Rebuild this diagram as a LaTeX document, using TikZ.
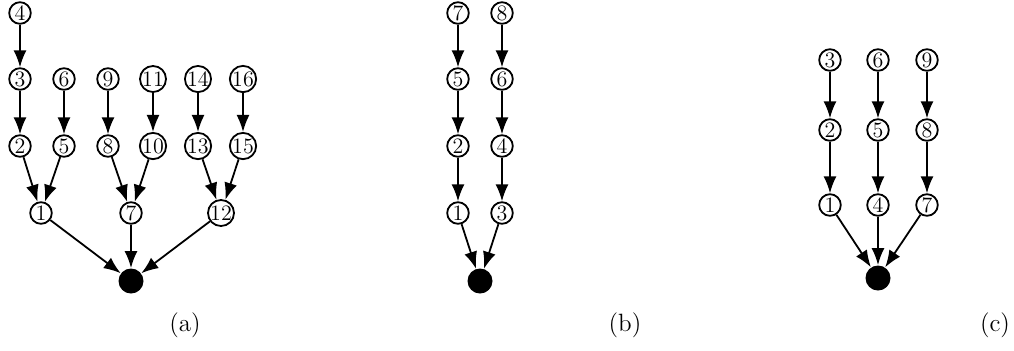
\documentclass[tikz,border=0pt]{standalone}
\usetikzlibrary{arrows.meta}
\begin{document}
\begin{tikzpicture}[x=0.5pt,y=-0.5pt,
  vtx/.style={circle,draw,line width=0.9pt,minimum size=10.8pt,inner sep=0pt,font=\fontsize{11}{13}\selectfont},
  rootv/.style={circle,fill,minimum size=12.5pt,inner sep=0pt},
  edge/.style={line width=0.9pt,-{Latex[length=8.5pt,width=6.5pt]}},
  caplabel/.style={inner sep=0pt,font=\fontsize{12.5}{15}\selectfont}]
\useasboundingbox (0,0) rectangle (1014,350);
% (a)
\node[vtx] (a4) at (20,13) {4};
\node[vtx] (a3) at (20,79) {3};
\node[vtx] (a6) at (64,79) {6};
\node[vtx] (a9) at (108,79) {9};
\node[vtx] (a11) at (153,79) {11};
\node[vtx] (a14) at (198,79) {14};
\node[vtx] (a16) at (243,79) {16};
\node[vtx] (a2) at (20,146) {2};
\node[vtx] (a5) at (64,146) {5};
\node[vtx] (a8) at (108,146) {8};
\node[vtx] (a10) at (153,146) {10};
\node[vtx] (a13) at (198,146) {13};
\node[vtx] (a15) at (243,146) {15};
\node[vtx] (a1) at (41,213) {1};
\node[vtx] (a7) at (131,213) {7};
\node[vtx] (a12) at (221,213) {12};
\node[rootv] (ar) at (131,281) {};
\draw[edge] (a4) -- (a3);
\draw[edge] (a3) -- (a2);
\draw[edge] (a6) -- (a5);
\draw[edge] (a9) -- (a8);
\draw[edge] (a11) -- (a10);
\draw[edge] (a14) -- (a13);
\draw[edge] (a16) -- (a15);
\draw[edge] (a2) -- (a1);
\draw[edge] (a5) -- (a1);
\draw[edge] (a8) -- (a7);
\draw[edge] (a10) -- (a7);
\draw[edge] (a13) -- (a12);
\draw[edge] (a15) -- (a12);
\draw[edge] (a1) -- (ar);
\draw[edge] (a7) -- (ar);
\draw[edge] (a12) -- (ar);
\node[caplabel] (la) at (185,325) {(a)};
% (b)
\node[vtx] (b7) at (458,13) {7};
\node[vtx] (b8) at (502,13) {8};
\node[vtx] (b5) at (458,79) {5};
\node[vtx] (b6) at (502,79) {6};
\node[vtx] (b2) at (458,146) {2};
\node[vtx] (b4) at (502,146) {4};
\node[vtx] (b1) at (458,213) {1};
\node[vtx] (b3) at (502,213) {3};
\node[rootv] (br) at (480,281) {};
\draw[edge] (b7) -- (b5);
\draw[edge] (b5) -- (b2);
\draw[edge] (b2) -- (b1);
\draw[edge] (b8) -- (b6);
\draw[edge] (b6) -- (b4);
\draw[edge] (b4) -- (b3);
\draw[edge] (b1) -- (br);
\draw[edge] (b3) -- (br);
\node[caplabel] (lb) at (625,325) {(b)};
% (c)
\node[vtx] (c3) at (830,60) {3};
\node[vtx] (c6) at (878,60) {6};
\node[vtx] (c9) at (927,60) {9};
\node[vtx] (c2) at (830,130) {2};
\node[vtx] (c5) at (878,130) {5};
\node[vtx] (c8) at (927,130) {8};
\node[vtx] (c1) at (830,205) {1};
\node[vtx] (c4) at (878,205) {4};
\node[vtx] (c7) at (927,205) {7};
\node[rootv] (cr) at (878,278) {};
\draw[edge] (c3) -- (c2);
\draw[edge] (c2) -- (c1);
\draw[edge] (c6) -- (c5);
\draw[edge] (c5) -- (c4);
\draw[edge] (c9) -- (c8);
\draw[edge] (c8) -- (c7);
\draw[edge] (c1) -- (cr);
\draw[edge] (c4) -- (cr);
\draw[edge] (c7) -- (cr);
\node[caplabel] (lc) at (995,325) {(c)};
\end{tikzpicture}
\end{document}
